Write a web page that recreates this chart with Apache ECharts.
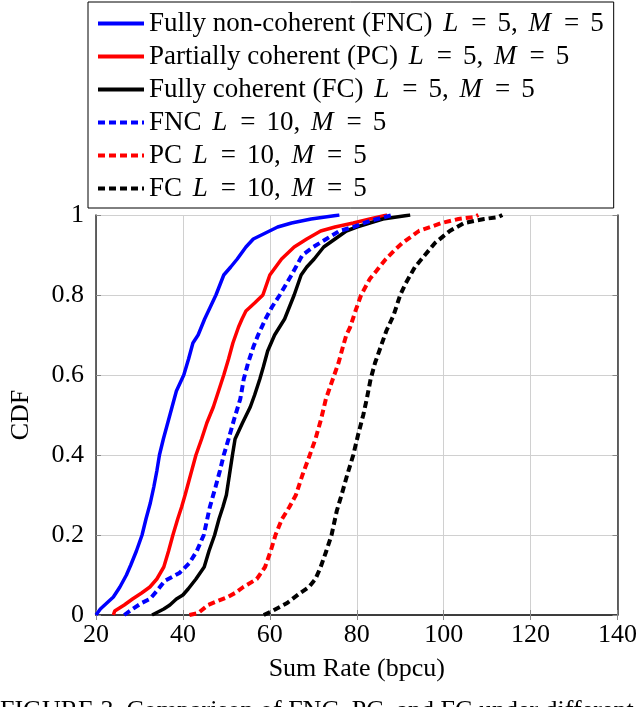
<!DOCTYPE html>
<html>
<head>
<meta charset="utf-8">
<script src="https://cdn.jsdelivr.net/npm/echarts@6/dist/echarts.min.js"></script>
<style>
html,body{margin:0;padding:0;background:#fff;}
#chart{width:640px;height:707px;}
</style>
</head>
<body>
<div id="chart"></div>
<script>
// ---- Data (Sum Rate [bpcu], CDF) ----
var fncL5 = [[20,0],[21,0.015],[22.5,0.03],[24,0.045],[25.5,0.07],[27,0.1],[28,0.125],[29.3,0.16],[30.6,0.2],[31.5,0.24],[32.5,0.28],[33.3,0.32],[34,0.36],[34.6,0.4],[35.5,0.44],[36.5,0.48],[37.5,0.52],[38.5,0.56],[40.2,0.6],[41.3,0.64],[42.3,0.68],[43.5,0.7],[45,0.74],[46.3,0.77],[47.6,0.8],[49.4,0.85],[51,0.87],[52.5,0.89],[54.5,0.92],[56.2,0.94],[59,0.955],[61.8,0.97],[65,0.98],[69.5,0.99],[76,1]];
var pcL5 = [[24,0],[24.3,0.01],[26.5,0.025],[28.4,0.04],[30.5,0.055],[32.4,0.07],[34,0.09],[35.6,0.12],[36.7,0.16],[37.7,0.2],[38.8,0.24],[39.7,0.27],[40.5,0.3],[41.5,0.34],[43,0.4],[44.3,0.44],[45.5,0.48],[47,0.52],[48.2,0.56],[49.4,0.6],[50.5,0.64],[51.5,0.68],[52.8,0.72],[53.6,0.74],[54.5,0.76],[56.5,0.78],[58.4,0.8],[60,0.85],[62.7,0.89],[65.6,0.92],[68.5,0.94],[71.7,0.96],[75,0.97],[79.2,0.98],[83,0.99],[87,1]];
var fcL5 = [[32.9,0],[35.6,0.015],[37,0.025],[38.5,0.04],[40,0.05],[41.2,0.065],[43,0.09],[44.9,0.12],[46,0.16],[47.3,0.2],[48.3,0.24],[49.2,0.27],[50,0.3],[50.7,0.35],[51.4,0.4],[52,0.44],[53.7,0.48],[55.5,0.52],[56.5,0.55],[57.7,0.59],[58.5,0.62],[59.5,0.66],[61.1,0.7],[63.4,0.74],[64.5,0.77],[65.6,0.8],[67.2,0.85],[68.5,0.87],[70.2,0.89],[72.4,0.92],[75,0.94],[77.6,0.96],[80,0.97],[83,0.98],[86,0.99],[92.3,1]];
var fncL10 = [[26.5,0],[28.4,0.015],[30.5,0.03],[32.4,0.04],[34,0.06],[35.8,0.085],[39.2,0.105],[41.5,0.13],[43.2,0.16],[44.8,0.2],[46.2,0.27],[47.5,0.32],[48.5,0.36],[49.4,0.4],[50.5,0.44],[51.8,0.49],[53.2,0.54],[54,0.59],[55,0.63],[56.2,0.67],[57.3,0.7],[59,0.74],[60.5,0.77],[62.3,0.8],[65,0.85],[67.5,0.9],[70,0.92],[73,0.94],[76,0.96],[79.2,0.97],[83,0.985],[88.2,1]];
var pcL10 = [[41.5,0],[43.5,0.005],[45.8,0.025],[48,0.035],[50.3,0.045],[52,0.055],[53.9,0.07],[57,0.09],[58.9,0.12],[60.2,0.16],[61.3,0.2],[62.8,0.24],[64.5,0.27],[66,0.3],[67.5,0.35],[69.2,0.4],[70.5,0.44],[71.8,0.49],[72.9,0.54],[74.5,0.59],[75.8,0.63],[76.8,0.67],[77.6,0.7],[78.5,0.72],[79.7,0.76],[81,0.8],[83,0.84],[84.5,0.86],[86.7,0.89],[88.5,0.91],[90.5,0.93],[94.3,0.96],[97,0.97],[99.5,0.98],[103.4,0.99],[107,0.995],[108,1]];
var fcL10 = [[58.6,0],[60.5,0.01],[62.3,0.02],[64,0.03],[65.2,0.04],[67,0.055],[69,0.07],[70.5,0.09],[71.7,0.12],[73,0.16],[74.2,0.2],[75.4,0.26],[76.5,0.3],[77.8,0.35],[79.2,0.4],[80.3,0.45],[81.5,0.5],[82.3,0.54],[83.2,0.59],[84.2,0.63],[85.5,0.67],[86.8,0.71],[88.5,0.75],[90,0.8],[91.3,0.83],[93.4,0.87],[95.7,0.9],[98,0.93],[101.4,0.96],[104.7,0.98],[109.3,0.99],[112.6,0.995],[113.5,1]];

var seriesNames = ['FNC L5','PC L5','FC L5','FNC L10','PC L10','FC L10'];
var legendLabels = {
  'FNC L5': '{n|Fully non-coherent (FNC)}{s| }{i|L}{e|=}{n|5,}{s| }{i|M}{e|=}{n|5}',
  'PC L5': '{n|Partially coherent (PC)}{s| }{i|L}{e|=}{n|5,}{s| }{i|M}{e|=}{n|5}',
  'FC L5': '{n|Fully coherent (FC)}{s| }{i|L}{e|=}{n|5,}{s| }{i|M}{e|=}{n|5}',
  'FNC L10': '{n|FNC}{s| }{i|L}{e|=}{n|10,}{s| }{i|M}{e|=}{n|5}',
  'PC L10': '{n|PC}{s| }{i|L}{e|=}{n|10,}{s| }{i|M}{e|=}{n|5}',
  'FC L10': '{n|FC}{s| }{i|L}{e|=}{n|10,}{s| }{i|M}{e|=}{n|5}'
};
var xTicks = [20,40,60,80,100,120,140];
var yTicks = [0,0.2,0.4,0.6,0.8,1];
var captionText = 'FIGURE 3. Comparison of FNC, PC, and FC under different';

var FONT = 'Liberation Serif';
var seriesData = [fncL5, pcL5, fcL5, fncL10, pcL10, fcL10];
var colors = ['#0000ff','#ff0000','#000000','#0000ff','#ff0000','#000000'];
var dashed = [false,false,false,true,true,true];

var chart = echarts.init(document.getElementById('chart'), null, {renderer:'canvas'});

var series = seriesData.map(function(d, i){
  return {
    name: seriesNames[i],
    type: 'line',
    data: d,
    symbol: 'none',
    smooth: false,
    animation: false,
    lineStyle: {color: colors[i], width: dashed[i] ? 4 : 3.5, type: dashed[i] ? [7,4] : 'solid'},
    itemStyle: {color: colors[i]},
    z: 10
  };
});

var tickFmt = function(v){ return String(v); };
var axisLineStyle = {color:'#333', width:1.5};
var FS = 26;

var option = {
  backgroundColor: '#fff',
  animation: false,
  grid: {left: 88, right: 21, top: 215, bottom: 92, containLabel: false},
  legend: {
    orient: 'vertical',
    left: 88, top: 2,
    padding: [8, 10, 6, 8],
    borderColor: '#000', borderWidth: 1,
    backgroundColor: '#fff',
    itemWidth: 46, itemHeight: 14, itemGap: 6,
    data: seriesNames,
    itemStyle: {opacity: 0},
    lineStyle: {width: 4},
    formatter: function(name){ return legendLabels[name]; },
    textStyle: {
      color: '#000', fontFamily: FONT, fontSize: 27, lineHeight: 27,
      rich: {
        n: {fontFamily: FONT, fontSize: 27, color:'#000', lineHeight: 27},
        s: {fontFamily: FONT, fontSize: 27, color:'#000', lineHeight: 27, padding: [0, 2, 0, 2]},
        i: {fontFamily: FONT, fontSize: 27, fontStyle: 'italic', color:'#000', lineHeight: 27, padding: [0, 2, 0, 0]},
        e: {fontFamily: FONT, fontSize: 27, color:'#000', lineHeight: 27, padding: [0, 11, 0, 11]}
      }
    }
  },
  xAxis: [{
    type: 'value', min: 20, max: 140, interval: 20,
    name: 'Sum Rate (bpcu)', nameLocation: 'middle', nameGap: 41,
    nameTextStyle: {fontFamily: FONT, fontSize: FS, color:'#000'},
    axisLine: {show: true, lineStyle: axisLineStyle},
    axisTick: {show: true, inside: true, length: 5, lineStyle:{color:'#888'}},
    axisLabel: {fontFamily: FONT, fontSize: FS, color:'#000', margin: 7, formatter: tickFmt},
    splitLine: {show: true, lineStyle: {color:'#d0d0d0', width:1}}
  },{
    type: 'value', min: 20, max: 140, interval: 20, position: 'top',
    axisLine: {show: true, lineStyle: axisLineStyle},
    axisTick: {show: true, inside: true, length: 5, lineStyle:{color:'#888'}},
    axisLabel: {show: false}, splitLine: {show: false}
  }],
  yAxis: [{
    type: 'value', min: 0, max: 1, interval: 0.2,
    name: 'CDF', nameLocation: 'middle', nameGap: 62, nameRotate: 90,
    nameTextStyle: {fontFamily: FONT, fontSize: FS, color:'#000'},
    axisLine: {show: true, lineStyle: axisLineStyle},
    axisTick: {show: true, inside: true, length: 5, lineStyle:{color:'#888'}},
    axisLabel: {fontFamily: FONT, fontSize: FS, color:'#000', margin: 12, formatter: tickFmt},
    splitLine: {show: true, lineStyle: {color:'#d0d0d0', width:1}}
  },{
    type: 'value', min: 0, max: 1, interval: 0.2, position: 'right',
    axisLine: {show: true, lineStyle: axisLineStyle},
    axisTick: {show: true, inside: true, length: 5, lineStyle:{color:'#888'}},
    axisLabel: {show: false}, splitLine: {show: false}
  }],
  series: series,
  graphic: [{
    type: 'text', left: 0, top: 698,
    style: {text: captionText, font: '26px "Liberation Serif"', fill: '#000'}
  }]
};
chart.setOption(option);
</script>
</body>
</html>
